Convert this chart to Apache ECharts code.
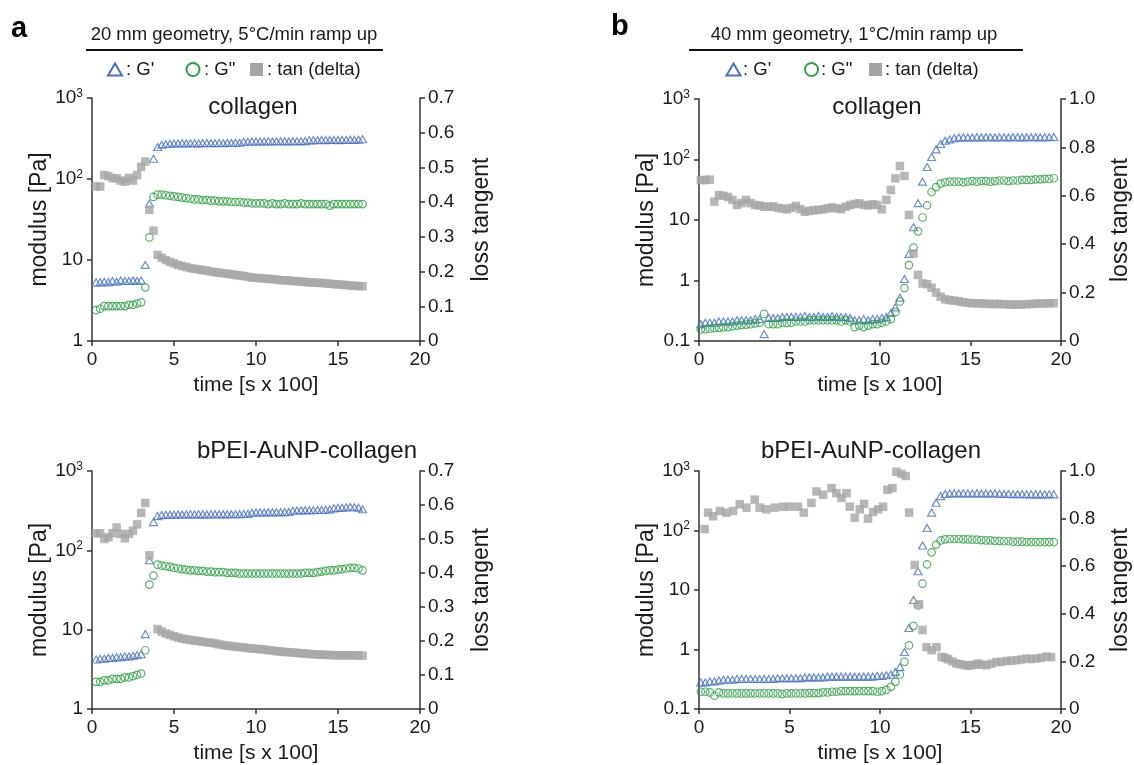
<!DOCTYPE html>
<html><head><meta charset="utf-8">
<script src="https://cdn.jsdelivr.net/npm/echarts@6/dist/echarts.min.js"></script>
<style>html,body{margin:0;padding:0;background:#fff}#c{width:1134px;height:765px}</style>
</head><body><div id="c"></div>
<script>
// ---------- DATA ----------
// panel a (20 mm geometry), time in s x 100
const timeA = [0.25,0.5,0.75,1,1.25,1.5,1.75,2,2.25,2.5,2.75,3,3.25,3.5,3.75,4,4.25,4.5,4.75,5,5.25,5.5,5.75,6,6.25,6.5,6.75,7,7.25,7.5,7.75,8,8.25,8.5,8.75,9,9.25,9.5,9.75,10,10.25,10.5,10.75,11,11.25,11.5,11.75,12,12.25,12.5,12.75,13,13.25,13.5,13.75,14,14.25,14.5,14.75,15,15.25,15.5,15.75,16,16.25,16.5];
// a, collagen
const gpA1 = [5.3,5.3,5.4,5.3,5.5,5.4,5.6,5.5,5.5,5.6,5.5,5.6,8.7,50,178,248,265,270,272,275,274,276,275,277,276,275,277,278,276,277,278,277,279,278,280,281,288,289,290,290,291,290,292,291,292,293,292,291,293,292,293,294,300,302,301,303,302,304,303,302,304,303,305,304,306,310];
const gppA1 = [2.4,2.5,2.7,2.7,2.7,2.7,2.7,2.7,2.8,2.8,2.9,3.0,4.6,19,60,64,64,63,62,61,60,59,58,57,56,56,55,55,54,54,53,53,53,52,52,52,51,51,50,50,50,50,49,50,49,49,50,49,49,49,50,49,49,49,49,49,49,47,49,49,49,49,49,49,49,49];
const tanA1 = [0.445,0.445,0.478,0.475,0.469,0.469,0.462,0.459,0.47,0.462,0.478,0.502,0.517,0.378,0.318,0.248,0.24,0.233,0.228,0.224,0.219,0.216,0.213,0.21,0.208,0.206,0.204,0.203,0.2,0.198,0.197,0.195,0.194,0.192,0.19,0.189,0.187,0.185,0.183,0.182,0.181,0.18,0.179,0.178,0.177,0.175,0.175,0.174,0.173,0.172,0.171,0.17,0.169,0.168,0.168,0.167,0.166,0.165,0.164,0.163,0.162,0.161,0.16,0.159,0.158,0.158];
// a, bPEI-AuNP-collagen
const gpA2 = [4.2,4.3,4.3,4.4,4.4,4.5,4.5,4.6,4.6,4.7,4.8,4.9,8.8,75,227,270,278,280,281,282,283,283,283,284,283,284,284,283,284,285,285,284,285,286,285,286,287,288,298,300,301,300,302,301,302,303,302,304,315,318,320,319,321,320,322,323,325,328,338,342,345,348,352,350,345,330];
const gppA2 = [2.2,2.2,2.3,2.3,2.4,2.4,2.4,2.5,2.5,2.6,2.7,2.8,5.5,37,48,66,64,63,62,60,59,58,57,56,56,55,55,54,54,53,53,53,52,52,52,51,51,51,51,51,51,51,51,51,51,51,51,51,51,51,51,52,52,52,53,54,55,56,56,57,58,59,60,60,59,56];
const tanA2 = [0.517,0.517,0.5,0.505,0.517,0.534,0.515,0.502,0.515,0.524,0.543,0.577,0.606,0.452,null,0.235,0.228,0.222,0.218,0.214,0.21,0.207,0.205,0.203,0.201,0.2,0.198,0.196,0.195,0.193,0.19,0.188,0.186,0.185,0.183,0.182,0.181,0.179,0.178,0.177,0.176,0.175,0.173,0.172,0.17,0.169,0.168,0.167,0.166,0.165,0.164,0.163,0.162,0.161,0.16,0.16,0.159,0.159,0.158,0.158,0.158,0.158,0.158,0.158,0.157,0.157];

// panel b (40 mm geometry)
const timeB = [0.1,0.35,0.6,0.85,1.1,1.35,1.6,1.85,2.1,2.35,2.6,2.85,3.1,3.35,3.6,3.85,4.1,4.35,4.6,4.85,5.1,5.35,5.6,5.85,6.1,6.35,6.6,6.85,7.1,7.35,7.6,7.85,8.1,8.35,8.6,8.85,9.1,9.35,9.6,9.85,10.1,10.35,10.6,10.85,11.1,11.35,11.6,11.85,12.1,12.35,12.6,12.85,13.1,13.35,13.6,13.85,14.1,14.35,14.6,14.85,15.1,15.35,15.6,15.85,16.1,16.35,16.6,16.85,17.1,17.35,17.6,17.85,18.1,18.35,18.6,18.85,19.1,19.35,19.6];
// b, collagen
const gpB1 = [0.19,0.2,0.2,0.2,0.21,0.21,0.21,0.21,0.22,0.22,0.22,0.22,0.23,0.23,0.13,0.24,0.24,0.24,0.25,0.25,0.25,0.25,0.25,0.26,0.25,0.25,0.26,0.25,0.25,0.26,0.25,0.25,0.25,0.24,0.22,0.22,0.23,0.22,0.23,0.23,0.24,0.25,0.29,0.36,0.52,1.06,2.75,7.6,19,43,75,110,147,180,204,215,225,230,231,232,232,233,232,233,233,232,233,233,232,233,233,232,233,233,233,232,233,234,236];
const gppB1 = [0.155,0.157,0.16,0.163,0.165,0.168,0.17,0.175,0.18,0.183,0.187,0.19,0.195,0.2,0.28,0.19,0.19,0.19,0.2,0.2,0.2,0.21,0.21,0.21,0.22,0.22,0.22,0.22,0.22,0.22,0.22,0.21,0.22,0.21,0.17,0.18,0.17,0.18,0.19,0.19,0.2,0.21,0.23,0.3,0.45,0.75,1.8,3.5,6.5,11,17.5,29,35,40,42,43,43,43,42,43,44,43,44,44,43,44,45,45,44,45,45,46,46,46,47,47,48,48,49];
const tanB1 = [0.665,0.665,0.667,0.576,0.603,0.6,0.595,0.583,0.562,0.57,0.583,0.57,0.562,0.56,0.555,0.555,0.556,0.55,0.548,0.544,0.55,0.558,0.545,0.534,0.538,0.54,0.542,0.544,0.548,0.552,0.548,0.545,0.555,0.562,0.566,0.569,0.562,0.56,0.565,0.562,0.544,0.583,0.624,0.672,0.723,0.682,0.521,0.362,0.273,0.238,0.235,0.22,0.2,0.183,0.172,0.169,0.167,0.164,0.16,0.158,0.156,0.156,0.155,0.154,0.153,0.153,0.153,0.152,0.151,0.15,0.15,0.151,0.152,0.153,0.154,0.155,0.155,0.156,0.156];
// b, bPEI-AuNP-collagen
const gpB2 = [0.28,0.28,0.29,0.29,0.3,0.31,0.31,0.31,0.32,0.32,0.32,0.32,0.32,0.32,0.32,0.32,0.32,0.33,0.33,0.33,0.33,0.33,0.33,0.34,0.34,0.34,0.34,0.34,0.35,0.35,0.35,0.35,0.35,0.35,0.35,0.35,0.35,0.35,0.35,0.36,0.36,0.37,0.38,0.42,0.51,0.91,2.3,6.8,20.7,56,110,200,293,379,410,420,422,420,421,420,420,421,420,419,420,418,415,412,410,408,407,406,406,405,405,405,405,406,405];
const gppB2 = [0.195,0.195,0.19,0.167,0.19,0.183,0.183,0.183,0.183,0.183,0.183,0.183,0.183,0.183,0.183,0.183,0.183,0.183,0.18,0.183,0.183,0.183,0.183,0.183,0.185,0.185,0.185,0.19,0.19,0.195,0.195,0.2,0.2,0.2,0.2,0.2,0.2,0.2,0.2,0.195,0.2,0.21,0.236,0.286,0.38,0.62,1.17,2.5,5.5,12.8,27,43,58,68,71,72,72,72,71,71,70,70,69,68,68,67,67,66,66,65,65,65,64,64,64,64,64,64,64];
const tanB2Time = [0.31,0.5,0.78,1.15,1.51,1.88,2.25,2.62,3.08,3.35,3.72,4.18,4.64,5.01,5.47,5.79,6.21,6.49,6.86,7.32,7.59,7.87,8.15,8.33,8.6,8.88,9.12,9.34,9.62,9.9,10.17,10.41,10.69,10.91,11.18,11.42,11.61,11.92,12.16,12.35,12.57,12.85,13.12,13.4,13.6,13.76,14.0,14.22,14.45,14.69,14.9,15.06,15.25,15.43,15.65,15.89,16.15,16.44,16.7,17.0,17.25,17.55,17.8,18.1,18.35,18.65,18.9,19.2,19.45];
const tanB2 = [0.756,0.825,0.81,0.832,0.825,0.832,0.86,0.846,0.88,0.846,0.839,0.846,0.85,0.85,0.85,0.825,0.866,0.914,0.9,0.928,0.907,0.887,0.907,0.85,0.804,0.839,0.862,0.8,0.828,0.839,0.85,0.921,0.928,0.997,0.988,0.979,0.825,0.605,0.44,0.332,0.26,0.247,0.26,0.219,0.215,0.209,0.2,0.191,0.188,0.184,0.182,0.184,0.186,0.191,0.186,0.184,0.19,0.197,0.198,0.202,0.203,0.205,0.208,0.212,0.21,0.212,0.215,0.22,0.218];

const panelTitles = ['collagen','bPEI-AuNP-collagen','collagen','bPEI-AuNP-collagen'];
const headers = ['20 mm geometry, 5\u00B0C/min ramp up','40 mm geometry, 1\u00B0C/min ramp up'];
const seriesNames = ["G'", 'G"', 'tan (delta)'];
const xTicks = {min:0, max:20, step:5};
const logRangeA = [1, 1000], logRangeB = [0.1, 1000];
const tanRangeA = [0, 0.7, 0.1], tanRangeB = [0, 1.0, 0.2];

// ---------- STYLE ----------
const FONT = '"Liberation Sans", Arial, Helvetica, sans-serif';
const AX = '#333333', TXT = '#1a1a1a';
const BLUE = '#4a72c4', GREEN = '#2ea043', GRAY = '#a5a5a5';

const grids = [
  {left:92, top:98, width:328, height:243},
  {left:92, top:471, width:328, height:242},
  {left:699, top:99, width:362, height:242},
  {left:699, top:471, width:362, height:242}
];

function pairs(t, v){ const out=[]; for(let i=0;i<t.length;i++){ if(v[i]!=null) out.push([t[i], v[i]]); } return out; }

function logLabel(v){
  const e = Math.round(Math.log10(v));
  if (e >= 2) return '10{sup|' + e + '}';
  if (e === 1) return '10';
  if (e === 0) return '1';
  return '0.1';
}
const axisCommon = {
  axisLine:{show:true, onZero:false, lineStyle:{color:AX, width:1.5}},
  axisTick:{show:true, inside:false, length:5, lineStyle:{color:AX, width:1.5}},
  splitLine:{show:false}, minorTick:{show:false}
};

const xAxis = grids.map((g,i)=>Object.assign({
  type:'value', gridIndex:i, min:xTicks.min, max:xTicks.max, interval:xTicks.step,
  name:'time [s x 100]', nameLocation:'middle', nameGap:34,
  nameTextStyle:{fontFamily:FONT, fontSize:21, color:TXT},
  axisLabel:{fontFamily:FONT, fontSize:19, color:TXT, margin:9}
}, axisCommon));

const yAxis = [];
grids.forEach((g,i)=>{
  const isB = i>=2;
  const lr = isB ? logRangeB : logRangeA;
  const tr = isB ? tanRangeB : tanRangeA;
  yAxis.push(Object.assign({
    type:'log', logBase:10, gridIndex:i, min:lr[0], max:lr[1], position:'left',
    name:'modulus [Pa]', nameLocation:'middle', nameRotate:90, nameGap:37,
    nameTextStyle:{fontFamily:FONT, fontSize:23, color:TXT},
    axisLabel:{fontFamily:FONT, fontSize:19, color:TXT, margin:9, formatter:logLabel,
      rich:{sup:{fontFamily:FONT, fontSize:12, color:TXT, padding:[0,0,9,0]}}}
  }, axisCommon));
  yAxis.push(Object.assign({
    type:'value', gridIndex:i, min:tr[0], max:tr[1], interval:tr[2], position:'right',
    name:'loss tangent', nameLocation:'middle', nameRotate:90, nameGap: isB?48:50,
    nameTextStyle:{fontFamily:FONT, fontSize:23, color:TXT},
    axisLabel:{fontFamily:FONT, fontSize:19, color:TXT, margin:8,
      formatter:(v)=> v===0 ? '0' : v.toFixed(1)}
  }, axisCommon));
});

const panelData = [
  [pairs(timeA,gpA1), pairs(timeA,gppA1), pairs(timeA,tanA1)],
  [pairs(timeA,gpA2), pairs(timeA,gppA2), pairs(timeA,tanA2)],
  [pairs(timeB,gpB1), pairs(timeB,gppB1), pairs(timeB,tanB1)],
  [pairs(timeB,gpB2), pairs(timeB,gppB2), pairs(tanB2Time,tanB2)]
];

const series = [];
panelData.forEach((d,i)=>{
  series.push({name:seriesNames[0], type:'scatter', xAxisIndex:i, yAxisIndex:2*i, data:d[0],
    symbol:'triangle', symbolSize:[8,7], z:3,
    itemStyle:{color:'rgba(0,0,0,0)', borderColor:BLUE, borderWidth:1.2}});
  series.push({name:seriesNames[1], type:'scatter', xAxisIndex:i, yAxisIndex:2*i, data:d[1],
    symbol:'circle', symbolSize:7.5, z:3,
    itemStyle:{color:'rgba(0,0,0,0)', borderColor:GREEN, borderWidth:1.2}});
  series.push({name:seriesNames[2], type:'scatter', xAxisIndex:i, yAxisIndex:2*i+1, data:d[2],
    symbol:'rect', symbolSize:8.5, z:4,
    itemStyle:{color:GRAY}});
});

const graphic = [];
// panel letters
graphic.push({type:'text', x:11, y:14, style:{text:'a', font:'bold 29px '+FONT, fill:'#000'}});
graphic.push({type:'text', x:611, y:12, style:{text:'b', font:'bold 29px '+FONT, fill:'#000'}});
// headers + rules
const hdr = [{cx:234, l:86, r:383}, {cx:854, l:689, r:1023}];
hdr.forEach((h,j)=>{
  graphic.push({type:'text', x:h.cx, y:35, style:{text:headers[j], font:'18.5px '+FONT, fill:TXT, align:'center', verticalAlign:'middle'}});
  graphic.push({type:'line', shape:{x1:h.l, y1:50, x2:h.r, y2:50}, style:{stroke:'#111', lineWidth:2}});
});
// legend rows
const leg = [
  {tri:115, t1:126, cir:193, t2:204, sq:256.5, t3:267},
  {tri:733.5, t1:743, cir:811.5, t2:821, sq:875.5, t3:885}
];
const LY = 69.5;
leg.forEach(L=>{
  graphic.push({type:'polygon', shape:{points:[[L.tri-7,LY+6],[L.tri+7,LY+6],[L.tri,LY-6]]}, style:{fill:'none', stroke:BLUE, lineWidth:2}});
  graphic.push({type:'text', x:L.t1, y:LY, style:{text:": G'", font:'18.5px '+FONT, fill:TXT, verticalAlign:'middle'}});
  graphic.push({type:'circle', shape:{cx:L.cir, cy:LY, r:6.5}, style:{fill:'none', stroke:GREEN, lineWidth:2}});
  graphic.push({type:'text', x:L.t2, y:LY, style:{text:': G"', font:'18.5px '+FONT, fill:TXT, verticalAlign:'middle'}});
  graphic.push({type:'rect', shape:{x:L.sq-6.5, y:LY-6.5, width:13, height:13}, style:{fill:GRAY}});
  graphic.push({type:'text', x:L.t3, y:LY, style:{text:': tan (delta)', font:'18.5px '+FONT, fill:TXT, verticalAlign:'middle'}});
});
// panel titles
const ttl = [{cx:253, cy:107}, {cx:307, cy:451}, {cx:877, cy:107}, {cx:871, cy:451}];
ttl.forEach((t,i)=>{
  graphic.push({type:'text', x:t.cx, y:t.cy, style:{text:panelTitles[i], font:'24px '+FONT, fill:TXT, align:'center', verticalAlign:'middle'}});
});

const chart = echarts.init(document.getElementById('c'), null, {renderer:'canvas'});
chart.setOption({
  animation:false, backgroundColor:'#ffffff',
  grid:grids.map(g=>Object.assign({containLabel:false}, g)),
  xAxis, yAxis, series, graphic
});
</script></body></html>
